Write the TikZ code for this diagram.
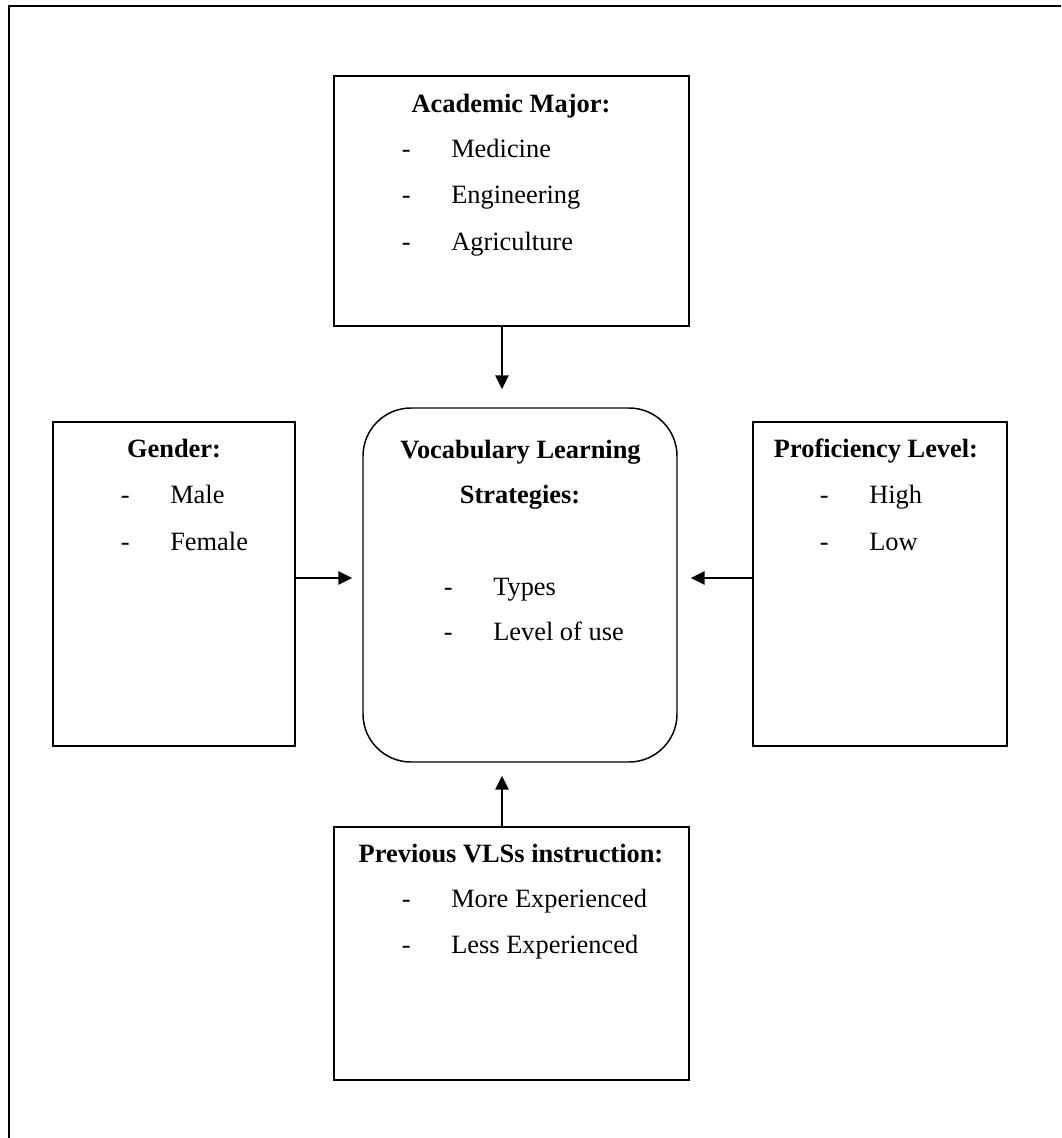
\documentclass[tikz,border=0pt]{standalone}
\usepackage{fontspec}
\setmainfont{Liberation Serif}
\usetikzlibrary{positioning,arrows.meta}

\newcommand\boxfont{\fontsize{19.8}{23.8}\selectfont}

\tikzset{
  factor/.style={draw, line width=1.1pt, inner sep=0pt},
  core/.style={factor, rounded corners=36pt},
  heading/.style={font=\boxfont\bfseries, inner sep=0pt, anchor=base},
  entry/.style={font=\boxfont, inner sep=0pt, anchor=base west},
  bullet/.style={font=\boxfont, inner sep=0pt},
  feed/.style={-{Triangle[length=10.5pt,width=10pt]}, line width=1.25pt},
  frame/.style={line width=2pt},
}

\begin{document}
\begin{tikzpicture}[x=0.75pt,y=-0.75pt]
  \useasboundingbox (0,0) rectangle (1061,1138);
  % outer frame (top and left only)
  \draw[frame] (9,1138) -- (9,6) -- (1061,6);

  % boxes
  \node[factor, minimum width=266.25pt, minimum height=187.5pt] (am) at (511.5,201) {};
  \node[factor, minimum width=181.5pt, minimum height=243pt] (gen) at (174,584) {};
  \node[factor, minimum width=190.5pt, minimum height=243pt] (prof) at (880,584) {};
  \node[core, minimum width=235.5pt, minimum height=265.5pt] (vls) at (520,585) {};
  \node[factor, minimum width=266.25pt, minimum height=189.75pt] (prev) at (511.5,953.5) {};

  % academic major
  \node[heading] (amT) at (511,113) {Academic Major:};
  \node[entry] (amA) at (451,157) {Medicine};
  \node[entry] (amB) at (451,203) {Engineering};
  \node[entry] (amC) at (451,250) {Agriculture};
  \node[bullet, left=30pt of amA.base west, anchor=base east] (amAd) {-};
  \node[bullet, left=30pt of amB.base west, anchor=base east] (amBd) {-};
  \node[bullet, left=30pt of amC.base west, anchor=base east] (amCd) {-};

  % gender
  \node[heading] (genT) at (174,457) {Gender:};
  \node[entry] (genA) at (170,503) {Male};
  \node[entry] (genB) at (170,550) {Female};
  \node[bullet, left=30pt of genA.base west, anchor=base east] (genAd) {-};
  \node[bullet, left=30pt of genB.base west, anchor=base east] (genBd) {-};

  % proficiency level
  \node[heading] (profT) at (876,457) {Proficiency Level:};
  \node[entry] (profA) at (869,503) {High};
  \node[entry] (profB) at (869,550) {Low};
  \node[bullet, left=30pt of profA.base west, anchor=base east] (profAd) {-};
  \node[bullet, left=30pt of profB.base west, anchor=base east] (profBd) {-};

  % vocabulary learning strategies
  \node[heading] (vlsT) at (520.5,458) {Vocabulary Learning};
  \node[heading] (vlsU) at (520,503) {Strategies:};
  \node[entry] (vlsA) at (493,595) {Types};
  \node[entry] (vlsB) at (493,640) {Level of use};
  \node[bullet, left=30pt of vlsA.base west, anchor=base east] (vlsAd) {-};
  \node[bullet, left=30pt of vlsB.base west, anchor=base east] (vlsBd) {-};

  % previous instruction
  \node[heading] (prevT) at (511,862) {Previous VLSs instruction:};
  \node[entry] (prevA) at (451,907) {More Experienced};
  \node[entry] (prevB) at (451,953) {Less Experienced};
  \node[bullet, left=30pt of prevA.base west, anchor=base east] (prevAd) {-};
  \node[bullet, left=30pt of prevB.base west, anchor=base east] (prevBd) {-};

  % arrows
  \coordinate (tx) at (502,0);
  \coordinate (ly) at (0,578);
  \draw[feed, shorten >=13.5pt] (am.south -| tx) -- (vls.north -| tx);
  \draw[feed, shorten >=7.5pt] (gen.east |- ly) -- (vls.west |- ly);
  \draw[feed, shorten >=9.75pt] (prof.west |- ly) -- (vls.east |- ly);
  \draw[feed, shorten >=9.75pt] (prev.north -| tx) -- (vls.south -| tx);
\end{tikzpicture}
\end{document}
